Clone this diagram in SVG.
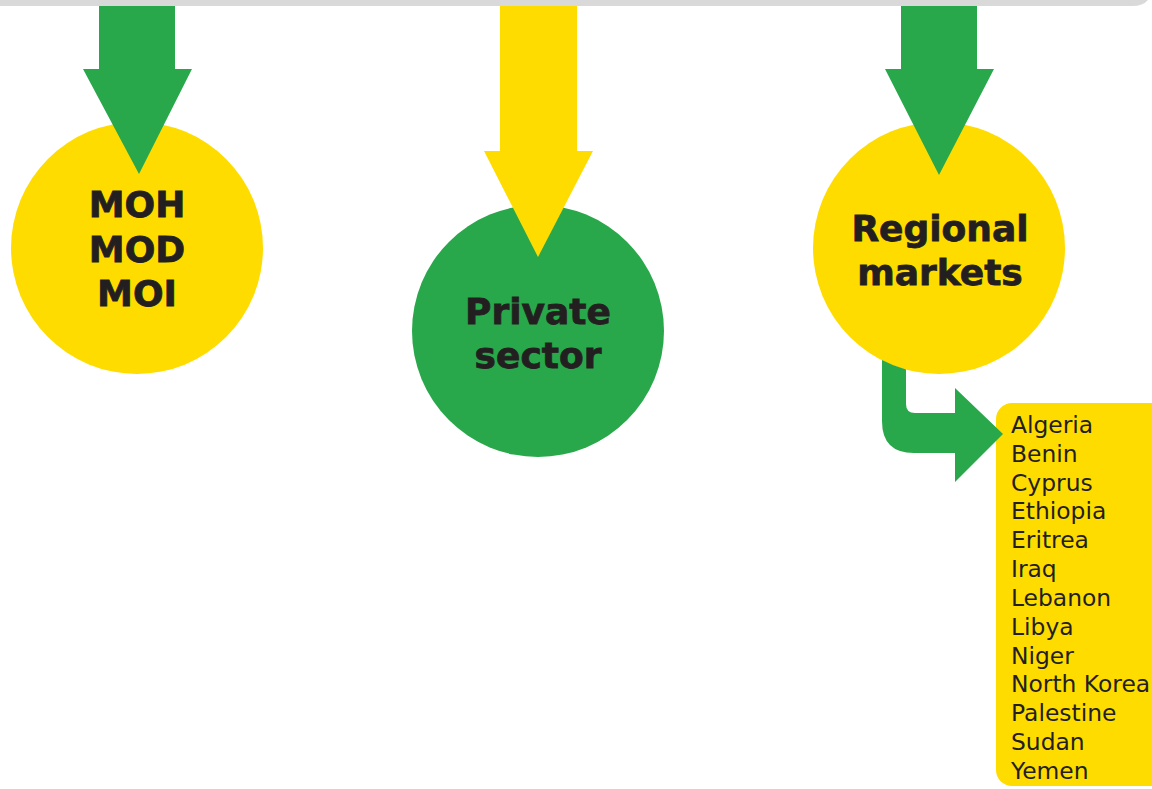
<svg xmlns="http://www.w3.org/2000/svg" width="1152" height="789" viewBox="0 0 1152 789">
<style>
.g{fill:#28a84a}
.y{fill:#ffdc00}
.t{font-family:"DejaVu Sans",Verdana,sans-serif;font-weight:bold;font-size:36px;fill:#231f20;stroke:#231f20;stroke-width:0.8;text-anchor:middle}
.l{font-family:"DejaVu Sans",Verdana,sans-serif;font-size:23.4px;fill:#231f20}
</style>
<rect width="1152" height="789" fill="#ffffff"/>
<path d="M0,0 L1148,0 Q1143,6 1132,6 L0,6 Z" fill="#d9d9d9"/>
<g id="node-moh">
<circle class="y" cx="137" cy="248" r="126"/>
<text class="t" x="137" y="217">MOH</text>
<text class="t" x="137" y="262">MOD</text>
<text class="t" x="137" y="306">MOI</text>
</g>
<g id="node-private">
<circle class="g" cx="538" cy="331" r="126"/>
<text class="t" x="538" y="324">Private</text>
<text class="t" x="538" y="368">sector</text>
</g>
<g id="node-regional">
<circle class="y" cx="939" cy="248" r="126"/>
<text class="t" x="940" y="241">Regional</text>
<text class="t" x="940" y="285">markets</text>
</g>
<g id="node-countries">
<rect class="y" x="996" y="403" width="180" height="383" rx="16"/>
<text class="l" x="1011">
<tspan x="1011" y="433">Algeria</tspan>
<tspan x="1011" y="462">Benin</tspan>
<tspan x="1011" y="491">Cyprus</tspan>
<tspan x="1011" y="519">Ethiopia</tspan>
<tspan x="1011" y="548">Eritrea</tspan>
<tspan x="1011" y="577">Iraq</tspan>
<tspan x="1011" y="606">Lebanon</tspan>
<tspan x="1011" y="635">Libya</tspan>
<tspan x="1011" y="664">Niger</tspan>
<tspan x="1011" y="692">North Korea</tspan>
<tspan x="1011" y="721">Palestine</tspan>
<tspan x="1011" y="750">Sudan</tspan>
<tspan x="1011" y="779">Yemen</tspan>
</text>
</g>
<g id="connectors">
<path class="g" d="M99,6 L175,6 L175,69 L192,69 L139,174 L83,69 L99,69 Z"/>
<path class="y" d="M500,6 L577,6 L577,151 L593,151 L538,257 L484,151 L500,151 Z"/>
<path class="g" d="M901,6 L977,6 L977,69 L994,69 L939,175 L885,69 L901,69 Z"/>
<path class="g" d="M882,360 A126,126 0 0 0 906,369.6 L906,404 Q906,413 915,413 L955,413 L955,388 L1003,434 L955,482 L955,453 L914,453 Q882,453 882,421 Z"/>
</g>
</svg>
